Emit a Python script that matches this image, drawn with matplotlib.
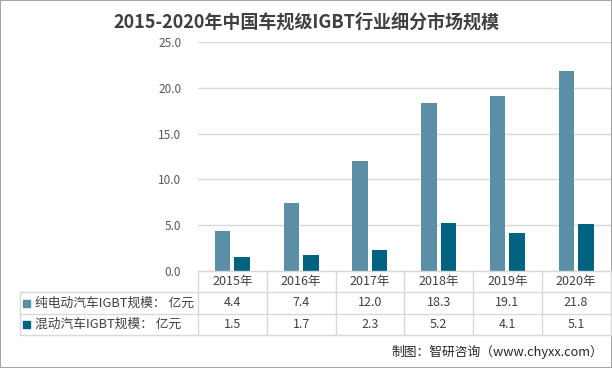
import matplotlib.pyplot as plt
from matplotlib.lines import Line2D
from matplotlib.patches import Rectangle

plt.rcParams['font.family'] = ['Noto Sans CJK SC', 'DejaVu Sans']

YEARS = ["2015年", "2016年", "2017年", "2018年", "2019年", "2020年"]
BEV = [4.4, 7.4, 12.0, 18.3, 19.1, 21.8]
HEV = [1.5, 1.7, 2.3, 5.2, 4.1, 5.1]
SERIES_NAMES = ["纯电动汽车IGBT规模： 亿元", "混动汽车IGBT规模： 亿元"]
Y_TICKS = [0, 5, 10, 15, 20, 25]

TITLE = "2015-2020年中国车规级IGBT行业细分市场规模"
SOURCE = "制图：智研咨询（www.chyxx.com）"

COLORS = ["#5b8fa8", "#00627f"]
GRID = "#d9d9d9"
TXT = "#404040"

W, H = 612, 368


def fx(px):
    return px / W


def fy(py):
    return 1 - py / H


fig = plt.figure(figsize=(W / 100, H / 100), dpi=100)

# plot area
left, right, top, base = 198, 610.5, 42, 271
ax = fig.add_axes([fx(left), fy(base), fx(right) - fx(left), fy(top) - fy(base)])
n = len(YEARS)
xs = list(range(n))
bw, off = 0.225, 0.143
ax.bar([x - off for x in xs], BEV, width=bw, color=COLORS[0], zorder=3)
ax.bar([x + off for x in xs], HEV, width=bw, color=COLORS[1], zorder=3)
ax.set_xlim(-0.5, n - 0.5)
ax.set_ylim(0, 25)
ax.set_yticks(Y_TICKS)
ax.set_yticklabels([f"{v:.1f}" for v in Y_TICKS], color="#595959", fontsize=8.5)
ax.tick_params(axis="y", length=0, pad=12)
ax.set_xticks([])
ax.grid(axis="y", color=GRID, lw=1, zorder=0)
for s in ax.spines.values():
    s.set_visible(False)

# table below the plot
col_w = (right - left) / n
rows = [271, 292, 314, 335]
tab_left = 20


def hline(y, x0, x1):
    fig.add_artist(Line2D([fx(x0), fx(x1)], [fy(y), fy(y)], color=GRID, lw=1))


def vline(x, y0, y1):
    fig.add_artist(Line2D([fx(x), fx(x)], [fy(y0), fy(y1)], color=GRID, lw=1))


hline(rows[0], left, right)
for y in rows[1:]:
    hline(y, tab_left, right)
vline(tab_left, rows[1], rows[3])
for i in range(n + 1):
    vline(left + i * col_w, rows[0], rows[3])

for i, yr in enumerate(YEARS):
    cx = left + (i + 0.5) * col_w
    fig.text(fx(cx), fy((rows[0] + rows[1]) / 2), yr, ha="center", va="center",
             fontsize=9, color=TXT)
    for r, vals in enumerate([BEV, HEV]):
        fig.text(fx(cx), fy((rows[r + 1] + rows[r + 2]) / 2), f"{vals[i]:.1f}",
                 ha="center", va="center", fontsize=9, color=TXT)

for r, name in enumerate(SERIES_NAMES):
    yc = (rows[r + 1] + rows[r + 2]) / 2
    fig.add_artist(Rectangle((fx(23), fy(yc + 3.5)), fx(7), 7 / H,
                             color=COLORS[r], transform=fig.transFigure))
    fig.text(fx(35), fy(yc), name, ha="left", va="center", fontsize=9.2, color=TXT)

fig.text(0.5, fy(22), TITLE, ha="center", va="center", fontsize=13,
         fontweight="bold", color="#404040")
fig.text(fx(603), fy(352), SOURCE, ha="right", va="center", fontsize=9.2,
         color="#262626")

# outer frame
fig.add_artist(Rectangle((0, 0), 1, 1, fill=False, ec="#a6a6a6", lw=1.5,
                         transform=fig.transFigure))

fig.savefig("out.png", dpi=100)
